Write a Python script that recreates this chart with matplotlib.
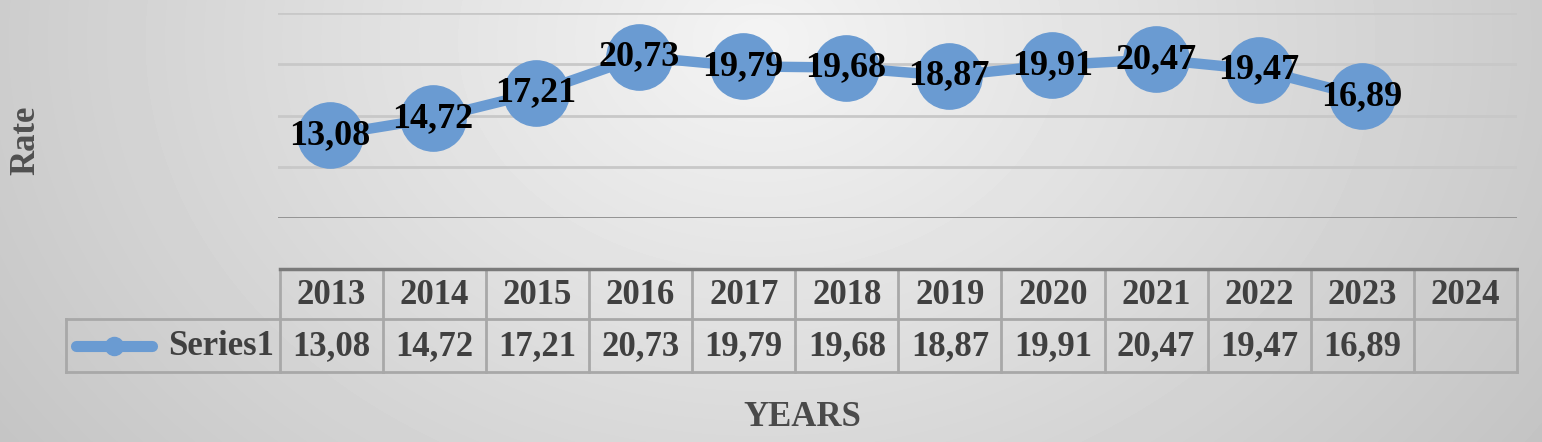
import numpy as np
import matplotlib.pyplot as plt
from matplotlib.lines import Line2D

years = ['2013', '2014', '2015', '2016', '2017', '2018',
         '2019', '2020', '2021', '2022', '2023', '2024']
rates = [13.08, 14.72, 17.21, 20.73, 19.79, 19.68, 18.87, 19.91, 20.47, 19.47, 16.89]
series_name = 'Series1'

W, H = 1542, 442
SERIF = ['Liberation Serif', 'DejaVu Serif']
BLUE = '#6a9bd2'


def box(l, t, r, b):
    # pixel box -> figure fraction rect
    return [l / W, 1 - b / H, (r - l) / W, (b - t) / H]


def fmt(v):
    return f'{v:.2f}'.replace('.', ',')


fig = plt.figure(figsize=(W / 100, H / 100), dpi=100)

# gray radial background
bg = fig.add_axes([0, 0, 1, 1], zorder=-10)
yy, xx = np.mgrid[0:H, 0:W]
d = np.sqrt(((xx - 760) / 850) ** 2 + ((yy - 40) / 650) ** 2)
shade = 0.955 - 0.17 * np.clip(d, 0, 1.2)
bg.imshow(shade, cmap='gray', vmin=0, vmax=1, aspect='auto',
          extent=[0, W, H, 0], interpolation='bilinear')
bg.set_xlim(0, W)
bg.set_ylim(H, 0)
bg.axis('off')

# main plot
ax = fig.add_axes(box(278, 13, 1517, 218))
ax.patch.set_alpha(0)
ax.set_xlim(-0.5, len(years) - 0.5)
ax.set_ylim(5, 25)
ax.set_yticks([5, 10, 15, 20, 25])
ax.grid(axis='y', color='#c8c8c8', lw=2)
ax.axhline(5, color='#8f8f8f', lw=2)
ax.tick_params(length=0, labelleft=False, labelbottom=False)
for s in ax.spines.values():
    s.set_visible(False)

x = np.arange(len(rates))
ax.plot(x, rates, color=BLUE, lw=7.5, marker='o', ms=47, zorder=3, clip_on=False)
for i, v in enumerate(rates):
    ax.text(i, v, fmt(v), ha='center', va='center', fontsize=26,
            fontweight='bold', family=SERIF, color='black', zorder=4)

# data table below
unit = (1517 - 278) / len(years)
x_left = -0.5 - (278 - 64) / unit


def px(p):
    return -0.5 + (p - 278) / unit


tab = fig.add_axes(box(64, 266, 1519, 374))
tab.set_xlim(x_left - 2 / unit, len(years) - 0.5 + 2 / unit)
tab.set_ylim(374, 266)
tab.axis('off')

grid_c = '#a8a8a8'
top, mid, bot = 269, 319, 372
for k in range(len(years) + 1):
    tab.plot([k - 0.5, k - 0.5], [top, bot], color=grid_c, lw=2)
tab.plot([x_left, x_left], [mid, bot], color=grid_c, lw=2)
tab.plot([-0.5, len(years) - 0.5], [top, top], color='#7a7a7a', lw=2.5)
tab.plot([x_left, len(years) - 0.5], [mid, mid], color=grid_c, lw=2)
tab.plot([x_left, len(years) - 0.5], [bot, bot], color=grid_c, lw=2)

for i, yr in enumerate(years):
    tab.text(i, (top + mid) / 2 + 1, yr, ha='center', va='center', fontsize=25,
             fontweight='bold', family=SERIF, color='#404040')
for i, v in enumerate(rates):
    tab.text(i, (mid + bot) / 2 + 1, fmt(v), ha='center', va='center', fontsize=25,
             fontweight='bold', family=SERIF, color='#404040')

ym = (mid + bot) / 2
tab.add_line(Line2D([px(74), px(150)], [ym, ym], color=BLUE, lw=8,
                    solid_capstyle='round'))
tab.plot([px(112)], [ym], marker='o', ms=13, color=BLUE)
tab.text(px(272), ym + 1, series_name, ha='right', va='center', fontsize=25,
         fontweight='bold', family=SERIF, color='#404040')

fig.text(26 / W, 1 - 140 / H, 'Rate', rotation=90, ha='center', va='center',
         fontsize=25, fontweight='bold', family=SERIF, color='#505050')
fig.text(802 / W, 1 - 418 / H, 'YEARS', ha='center', va='center',
         fontsize=25, fontweight='bold', family=SERIF, color='#4a4a4a')

fig.savefig('out.png', dpi=100)
